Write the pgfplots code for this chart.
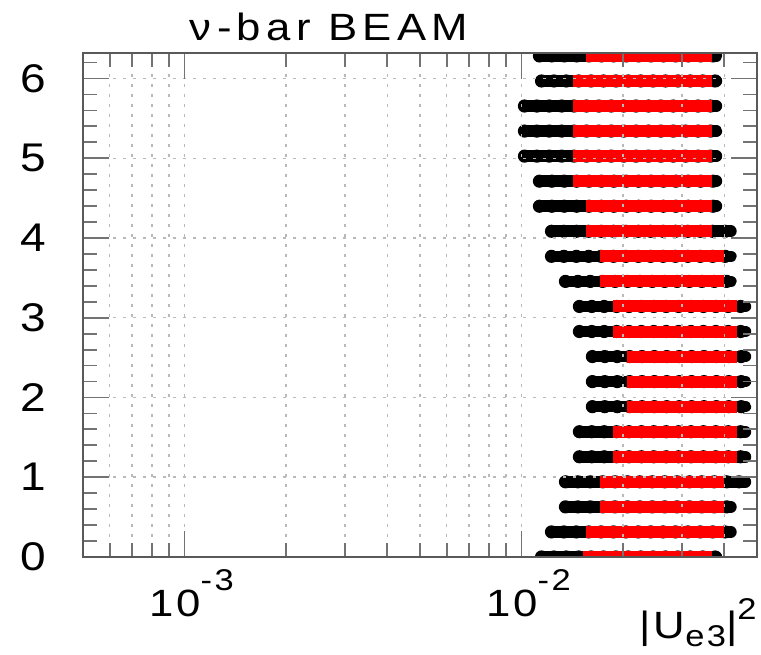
\documentclass[border=0pt]{standalone}
\usepackage{fontspec}
\setmainfont{Liberation Sans}[FakeStretch=1.15, LetterSpace=8]
\usepackage{pgfplots}
\usepackage{pgfplotstable}
\pgfplotsset{compat=1.18}

% black (wide range) segments: pairs of points, separated by nan
\pgfplotstableread{
x y
0.01147 0
0.03790 0
nan nan
0.01228 0.31416
0.04184 0.31416
nan nan
0.01351 0.62832
0.04184 0.62832
nan nan
0.01351 0.94248
0.04620 0.94248
nan nan
0.01486 1.25664
0.04620 1.25664
nan nan
0.01486 1.57080
0.04620 1.57080
nan nan
0.01624 1.88496
0.04620 1.88496
nan nan
0.01624 2.19911
0.04620 2.19911
nan nan
0.01624 2.51327
0.04620 2.51327
nan nan
0.01486 2.82743
0.04620 2.82743
nan nan
0.01486 3.14159
0.04620 3.14159
nan nan
0.01351 3.45575
0.04184 3.45575
nan nan
0.01228 3.76991
0.04184 3.76991
nan nan
0.01228 4.08407
0.04184 4.08407
nan nan
0.01131 4.39823
0.03790 4.39823
nan nan
0.01131 4.71239
0.03790 4.71239
nan nan
0.01021 5.02655
0.03790 5.02655
nan nan
0.01021 5.34071
0.03790 5.34071
nan nan
0.01021 5.65487
0.03790 5.65487
nan nan
0.01147 5.96903
0.03790 5.96903
nan nan
0.01131 6.28319
0.03790 6.28319
}\blackbars

% red (narrow range) segments
\pgfplotstableread{
x y
0.01522 0
0.03675 0
nan nan
0.01553 0.31416
0.03990 0.31416
nan nan
0.01710 0.62832
0.03990 0.62832
nan nan
0.01710 0.94248
0.03990 0.94248
nan nan
0.01869 1.25664
0.04375 1.25664
nan nan
0.01869 1.57080
0.04375 1.57080
nan nan
0.02056 1.88496
0.04375 1.88496
nan nan
0.02056 2.19911
0.04375 2.19911
nan nan
0.02056 2.51327
0.04375 2.51327
nan nan
0.01869 2.82743
0.04375 2.82743
nan nan
0.01869 3.14159
0.04375 3.14159
nan nan
0.01710 3.45575
0.03990 3.45575
nan nan
0.01710 3.76991
0.03990 3.76991
nan nan
0.01553 4.08407
0.03675 4.08407
nan nan
0.01553 4.39823
0.03675 4.39823
nan nan
0.01422 4.71239
0.03675 4.71239
nan nan
0.01422 5.02655
0.03675 5.02655
nan nan
0.01422 5.34071
0.03675 5.34071
nan nan
0.01422 5.65487
0.03675 5.65487
nan nan
0.01422 5.96903
0.03675 5.96903
nan nan
0.01553 6.28319
0.03675 6.28319
}\redbars

\newcommand{\tenpow}[1]{\fontsize{19}{19}\selectfont 10\raisebox{13pt}{\fontsize{15}{15}\selectfont #1}}

\begin{document}
\begin{tikzpicture}
\begin{axis}[
  name=ax,
  at={(0,0)}, anchor=south west,
  scale only axis, width=337pt, height=252pt,
  xmode=log, xmin=5e-4, xmax=5e-2, ymin=0, ymax=6.32,
  xtick={0.001,0.01},
  xticklabels={{\tenpow{-3}},{\tenpow{-2}}},
  minor xtick={0.0006,0.0007,0.0008,0.0009,0.002,0.003,0.004,0.005,0.006,0.007,0.008,0.009,0.02,0.03,0.04,0.05},
  ytick={0,1,2,3,4,5,6},
  yticklabels={0,1,2,3,4,5,6},
  minor ytick={0.2,0.4,0.6,0.8,1.2,1.4,1.6,1.8,2.2,2.4,2.6,2.8,3.2,3.4,3.6,3.8,4.2,4.4,4.6,4.8,5.2,5.4,5.6,5.8,6.2},
  tick align=inside, tick pos=both,
  xticklabel pos=left, yticklabel pos=left,
  major tick length=13pt, minor tick length=7pt,
  xmajorgrids, xminorgrids, ymajorgrids,
  grid style={gray!55, line width=0.75pt, dash pattern=on 1.5pt off 3.5pt},
  axis line style={black!65, line width=1pt},
  every tick/.style={black!55, line width=0.9pt},
  axis on top,
  unbounded coords=jump,
  yticklabel style={font=\fontsize{20}{20}\selectfont, xshift=-15pt},
  xticklabel style={xshift=3.5pt, yshift=-3pt},
  title={\fontsize{19}{19}\selectfont\addfontfeatures{LetterSpace=14}ν-bar BEAM},
  every axis title/.style={at={(axis description cs:0.158,1)}, anchor=base west, yshift=6pt, inner sep=0pt},
  xlabel={\fontsize{19}{19}\selectfont |U\raisebox{-4pt}{\fontsize{15}{15}\selectfont e3}|\raisebox{9.5pt}{\fontsize{15}{15}\selectfont 2}},
  every axis x label/.style={at={(axis description cs:1,0)}, anchor=base east, yshift=-41pt, inner sep=0pt},
]
\addplot[black, line width=5.8pt, line cap=round] table[x=x,y=y] {\blackbars};
\addplot[black, line width=6.6pt, line cap=round, dash pattern=on 0pt off 6.2pt] table[x=x,y=y] {\blackbars};
\addplot[red, line width=6pt, line cap=butt] table[x=x,y=y] {\redbars};
\end{axis}
\pgfresetboundingbox
\path ([shift={(-41.5pt,-49pt)}]ax.south west) rectangle ([shift={(2pt,26.5pt)}]ax.north east);
\end{tikzpicture}
\end{document}
